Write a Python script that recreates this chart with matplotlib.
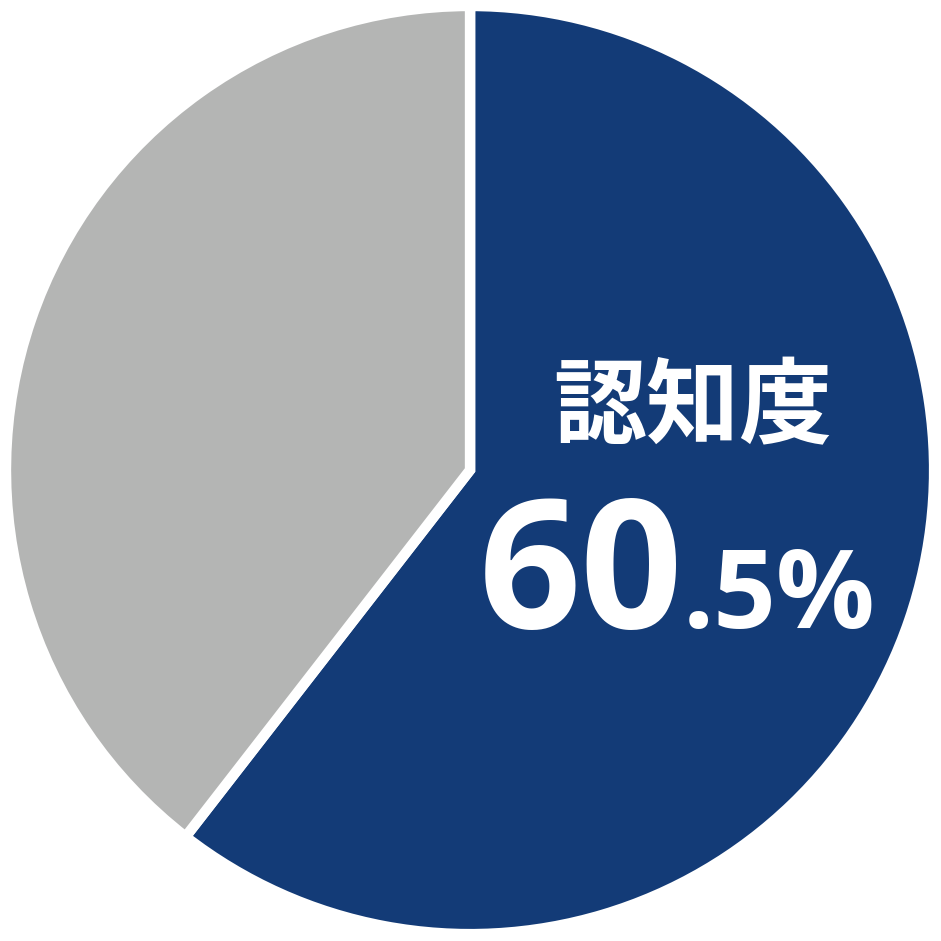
import matplotlib
matplotlib.use("Agg")
import matplotlib.pyplot as plt

labels = ["認知度", "その他"]
values = [60.5, 39.5]
colors = ["#133B77", "#B4B5B4"]
title_text = "認知度"
big_part = "60"
small_part = ".5%"


def main():
    fig = plt.figure(figsize=(9.41, 9.41), dpi=100)
    ax = fig.add_axes([0, 0, 1, 1])
    ax.pie(values, colors=colors, startangle=90, counterclock=False,
           radius=1.011, wedgeprops=dict(edgecolor="white", linewidth=7.5))
    ax.set_xlim(-1.024, 1.026)
    ax.set_ylim(-1.026, 1.024)
    ax.set_aspect("equal")
    ax.axis("off")

    ax.text(0.486, 0.135, title_text, color="white", fontsize=67,
            fontweight="bold", family=["Noto Sans CJK JP", "DejaVu Sans"],
            ha="center", va="center")
    ax.text(0.464, -0.344, big_part, color="white", fontsize=129,
            fontweight="bold", family="Open Sans", ha="right", va="baseline")
    ax.text(0.464, -0.344, small_part, color="white", fontsize=79,
            fontweight="bold", family="Open Sans", ha="left", va="baseline")

    fig.savefig("out.png", dpi=100)


if __name__ == "__main__":
    main()
